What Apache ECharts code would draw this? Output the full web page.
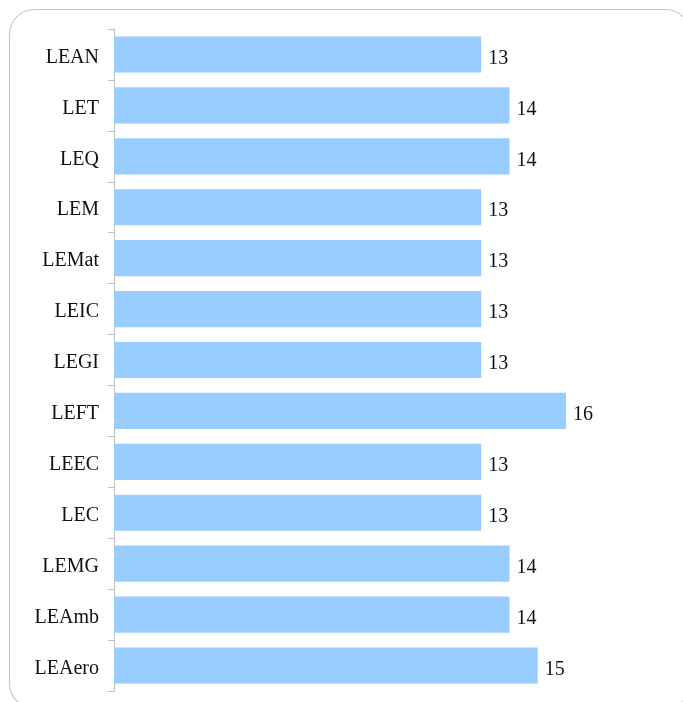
<!DOCTYPE html>
<html>
<head>
<meta charset="utf-8">
<script src="https://cdn.jsdelivr.net/npm/echarts@6/dist/echarts.min.js"></script>
<style>
html,body{margin:0;padding:0;background:#fff;}
#chart{width:683px;height:702px;}
</style>
</head>
<body>
<div id="chart"></div>
<script>
const categories = ['LEAN','LET','LEQ','LEM','LEMat','LEIC','LEGI','LEFT','LEEC','LEC','LEMG','LEAmb','LEAero'];
const values = [13,14,14,13,13,13,13,16,13,13,14,14,15];

const FONT = '"Liberation Serif", "DejaVu Serif", serif';
const chart = echarts.init(document.getElementById('chart'));
chart.setOption({
  animation: false,
  backgroundColor: '#fff',
  graphic: [{
    type: 'rect',
    shape: { x: 9.5, y: 9.5, width: 681, height: 699, r: 25 },
    style: { fill: 'none', stroke: '#c8c8c8', lineWidth: 1.2 },
    silent: true,
    z: -10
  }],
  grid: { left: 114, right: 4, top: 29, bottom: 11, containLabel: false },
  xAxis: {
    type: 'value', min: 0, max: 20, interval: 2,
    show: false
  },
  yAxis: {
    type: 'category',
    data: categories,
    inverse: true,
    axisLine: { show: true, lineStyle: { color: '#c0c0c0', width: 1 } },
    axisTick: { show: true, length: 6, lineStyle: { color: '#c0c0c0' } },
    axisLabel: {
      margin: 15, color: '#111', fontFamily: FONT, fontSize: 20,
      formatter: '{a|{value}}',
      rich: { a: { fontFamily: FONT, fontSize: 20, color: '#111', padding: [6, 0, 0, 0] } }
    },
    splitLine: { show: false }
  },
  series: [{
    type: 'bar',
    data: values,
    barCategoryGap: '29%',
    itemStyle: { color: '#99ccff' },
    label: {
      show: true, position: 'right', distance: 7, offset: [0, 4],
      color: '#111', fontFamily: FONT, fontSize: 20
    }
  }]
});
</script>
</body>
</html>
